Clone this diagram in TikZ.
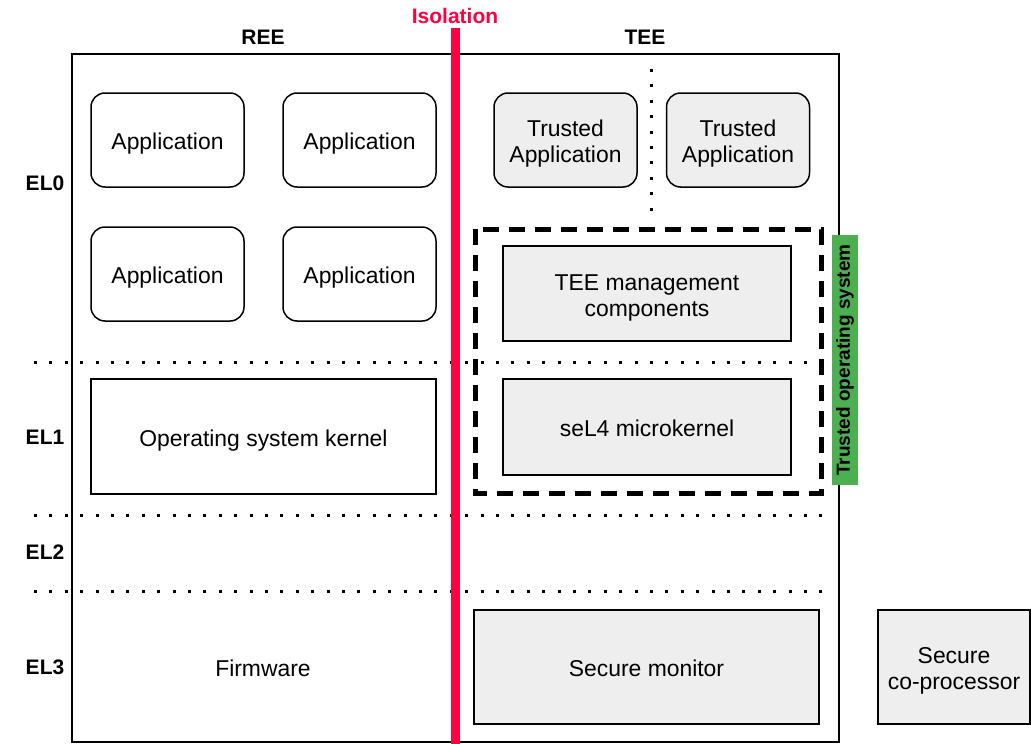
\documentclass[tikz,border=0pt]{standalone}
\usepackage{fontspec}
\setmainfont{Liberation Sans}
% fixed ascent for the first line of a label
\newcommand\firstline{\rule{0pt}{23.8pt}}
\begin{document}
\begin{tikzpicture}[x=1pt,y=-1pt,
  % fixed line box so every label sits at the same height whatever its letters
  body/.style={font=\fontsize{22.9}{26}\selectfont, align=center, text=black,
    execute at begin node={\firstline},
    execute at end node={\rule[-4.8pt]{0pt}{4.8pt}}},
  app/.style={body, draw, line width=1.5pt, rounded corners=14pt, fill=white,
    minimum width=153pt, minimum height=94pt, inner sep=0pt},
  tapp/.style={app, fill=boxgray, minimum width=143pt},
  grbox/.style={body, draw, line width=1.5pt, fill=boxgray, inner sep=0pt},
  wbox/.style={body, draw, line width=1.5pt, fill=white, inner sep=0pt},
  lbl/.style={font=\fontsize{21}{24}\selectfont\bfseries},
  dotline/.style={line width=3pt, dash pattern=on 3pt off 12.4pt},
]
\definecolor{boxgray}{HTML}{EEEEEE}
\definecolor{isored}{HTML}{FF0040}
\definecolor{tosgreen}{HTML}{4CAF50}
\useasboundingbox (0,0) rectangle (1031,744);

% outer system frame
\draw[line width=1.5pt] (72,54) rectangle (839,742);

% privilege level separators
\coordinate (s1a) at (34,362); \coordinate (s1b) at (834,362);
\coordinate (s2a) at (34,515); \coordinate (s2b) at (834,515);
\coordinate (s3a) at (34,591); \coordinate (s3b) at (834,591);
\draw[dotline] (s1a) -- (s1b);
\draw[dotline] (s2a) -- (s2b);
\draw[dotline] (s3a) -- (s3b);

% separator between trusted applications
\coordinate (ta) at (651,69); \coordinate (tb) at (651,212);
\draw[dotline] (ta) -- (tb);

% column and level headings
\node[lbl] (ree) at (263,37) {REE};
\node[lbl] (tee) at (645,37) {TEE};
\node[lbl] (el0) at (45,183) {EL0};
\node[lbl] (el1) at (45,437) {EL1};
\node[lbl] (el2) at (45,552) {EL2};
\node[lbl] (el3) at (45,667) {EL3};

% REE side
\node[app] (a1) at (167.5,140) {Application};
\node[app] (a2) at (359.5,140) {Application};
\node[app] (a3) at (167.5,274) {Application};
\node[app] (a4) at (359.5,274) {Application};
\node[wbox, minimum width=345pt, minimum height=115pt] (osk) at (263.5,436.5) {Operating system kernel};
\node[body] (fw) at (263,667) {Firmware};

% TEE side
\node[tapp] (ta1) at (565.5,140) {\firstline Trusted\\Application};
\node[tapp] (ta2) at (738,140) {\firstline Trusted\\Application};
\node[grbox, minimum width=288pt, minimum height=95pt] (mgmt) at (647,293.5) {\firstline TEE management\\components};
\node[grbox, minimum width=288pt, minimum height=96pt] (sel4) at (647,427) {seL4 microkernel};
\node[grbox, minimum width=345pt, minimum height=114pt] (mon) at (646.5,667) {Secure monitor};
\node[grbox, minimum width=152pt, minimum height=114pt] (cop) at (954,667) {\firstline Secure\\co-processor};

% trusted operating system boundary
\draw[line width=5pt, dash pattern=on 16pt off 10pt] (475,229) rectangle (821,493);
\node[fill=tosgreen, minimum width=250pt, minimum height=26pt, inner sep=0pt,
      rotate=90, font=\fontsize{19}{22}\selectfont\bfseries] (tos) at (845,360) {Trusted operating system};

% isolation barrier
\coordinate (isotop) at (455,28); \coordinate (isobot) at (455,744);
\draw[isored, line width=9pt] (isotop) -- (isobot);
\node[lbl, text=isored] (iso) at (455,16) {Isolation};
\end{tikzpicture}
\end{document}
